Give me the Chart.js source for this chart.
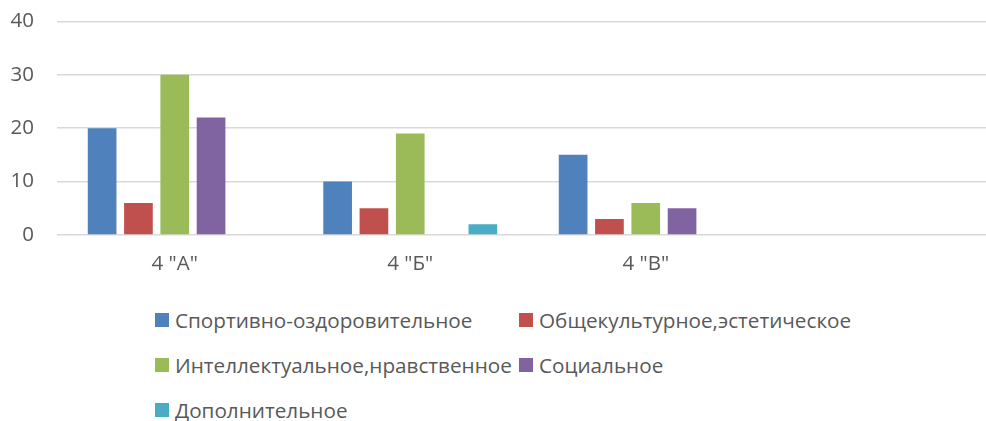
<!DOCTYPE html>
<html>
<head>
<meta charset="utf-8">
<script src="https://cdn.jsdelivr.net/npm/chart.js@4"></script>
<style>
  html, body { margin: 0; padding: 0; background: #fff; overflow: hidden; }
  #wrap { position: relative; width: 986px; height: 421px; overflow: hidden; }
  #chartBox { position: absolute; left: 0; top: -14px; width: 1000px; height: 304px; }
  .leg { position: absolute; display: flex; align-items: center; font-family: "Open Sans", sans-serif;
         font-size: 20.7px; color: #595959; white-space: nowrap; line-height: 24px; }
  .leg i { display: inline-block; width: 14px; height: 14px; margin-right: 6px; }
</style>
</head>
<body>
<div id="wrap">
  <div id="chartBox"><canvas id="barChart"></canvas></div>
  <div id="legend"></div>
</div>
<script>
// ==========================================
// DATA
// ==========================================
const classes = ['4 "А"', '4 "Б"', '4 "В"', ''];   // 4th category is empty in the original
const seriesNames = ['Спортивно-оздоровительное', 'Общекультурное,эстетическое',
                     'Интеллектуальное,нравственное', 'Социальное', 'Дополнительное'];
const sport    = [20, 10, 15, null];
const culture  = [6, 5, 3, null];
const intellect = [30, 19, 6, null];
const social   = [22, null, 5, null];
const extra    = [null, 2, null, null];
const yTicks   = [0, 10, 20, 30, 40];

const colors = ['#4F81BD', '#C0504D', '#9BBB59', '#8064A2', '#4BACC6'];
const textColor = '#595959';
const font = { family: '"Open Sans", sans-serif', size: 20.5 };

const allSeries = [sport, culture, intellect, social, extra];

const ctx = document.getElementById('barChart');
new Chart(ctx.getContext('2d'), {
  type: 'bar',
  data: {
    labels: classes,
    datasets: allSeries.map((vals, i) => ({
      label: seriesNames[i],
      data: vals,
      backgroundColor: colors[i],
      borderWidth: 0,
      categoryPercentage: 0.771,
      barPercentage: 0.79
    }))
  },
  options: {
    responsive: true,
    maintainAspectRatio: false,
    animation: false,
    layout: { padding: { top: 7, right: 1, left: 0, bottom: 0 } },
    plugins: { legend: { display: false }, tooltip: { enabled: false } },
    scales: {
      x: {
        grid: { display: false, drawTicks: false },
        border: { display: false },
        ticks: { color: textColor, font: font, padding: 17, maxRotation: 0 },
        afterFit: s => { s.height = 55; }
      },
      y: {
        min: yTicks[0],
        max: yTicks[yTicks.length - 1],
        afterBuildTicks: s => { s.ticks = yTicks.map(v => ({ value: v })); },
        grid: { color: '#D9D9D9', lineWidth: 1.5, drawTicks: false },
        border: { display: false },
        ticks: { color: textColor, font: font, padding: 23 },
        afterFit: s => { s.width = 57; }
      }
    }
  }
});

// Legend laid out like the original (left-aligned columns, 3 rows)
const legendSpots = [[155, 320], [519, 320], [155, 365], [519, 365], [155, 410]];
const legendBox = document.getElementById('legend');
seriesNames.forEach((name, i) => {
  const item = document.createElement('div');
  item.className = 'leg';
  item.style.left = legendSpots[i][0] + 'px';
  item.style.top = (legendSpots[i][1] - 12) + 'px';
  item.innerHTML = '<i style="background:' + colors[i] + '"></i>' + name;
  legendBox.appendChild(item);
});
</script>
</body>
</html>
